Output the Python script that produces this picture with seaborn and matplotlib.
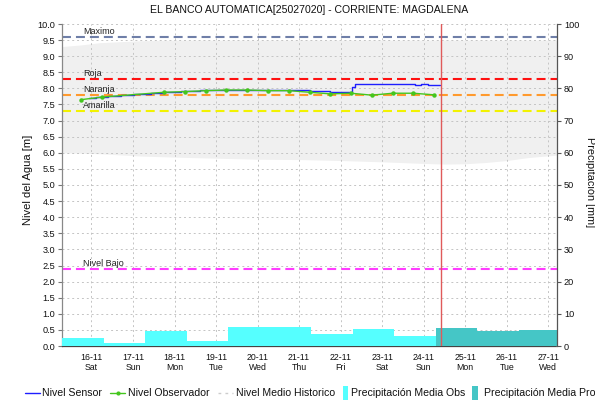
import matplotlib
matplotlib.use("Agg")
import matplotlib.pyplot as plt
import matplotlib.dates as mdates
from matplotlib.lines import Line2D
from matplotlib.patches import Rectangle
import pandas as pd
import seaborn as sns

# ---------------- data ----------------
sensor_time = ["2019-11-15 22:30", "2019-11-16 02:30", "2019-11-16 09:30", "2019-11-16 17:00",
               "2019-11-17 00:30", "2019-11-17 10:30", "2019-11-17 18:00", "2019-11-18 03:30",
               "2019-11-18 15:00", "2019-11-19 02:30", "2019-11-19 14:00", "2019-11-20 19:00",
               "2019-11-20 22:00", "2019-11-21 06:30", "2019-11-21 18:00", "2019-11-22 02:30",
               "2019-11-22 06:30", "2019-11-22 08:30", "2019-11-23 19:00", "2019-11-23 22:30",
               "2019-11-24 02:30", "2019-11-24 09:30"]
sensor_level = [7.70, 7.74, 7.77, 7.79, 7.83, 7.86, 7.90, 7.92, 7.94, 7.95, 7.96, 7.96,
                7.94, 7.92, 7.89, 7.88, 8.04, 8.14, 8.11, 8.14, 8.10, 8.10]

obs_time = ["2019-11-15 18:00", "2019-11-16 06:00", "2019-11-17 18:00", "2019-11-18 06:00",
            "2019-11-18 18:00", "2019-11-19 06:00", "2019-11-19 18:00", "2019-11-20 06:00",
            "2019-11-20 18:00", "2019-11-21 06:00", "2019-11-21 18:00", "2019-11-22 06:00",
            "2019-11-22 18:00", "2019-11-23 06:00", "2019-11-23 18:00", "2019-11-24 06:00"]
obs_level = [7.65, 7.73, 7.88, 7.90, 7.93, 7.95, 7.95, 7.93, 7.93, 7.88, 7.83, 7.85,
             7.79, 7.85, 7.85, 7.80]

# historical range (envelope)
hist_time = ["2019-11-15 07:00", "2019-11-15 18:00", "2019-11-16 05:00", "2019-11-17 04:00",
             "2019-11-18 04:00", "2019-11-19 02:00", "2019-11-20 00:00", "2019-11-21 00:00",
             "2019-11-22 00:00", "2019-11-23 00:00", "2019-11-24 00:00", "2019-11-24 12:00",
             "2019-11-25 00:00", "2019-11-25 12:00", "2019-11-26 00:00", "2019-11-26 12:00",
             "2019-11-27 05:00"]
hist_low = [6.00, 5.99, 5.97, 5.90, 5.86, 5.83, 5.80, 5.79, 5.76, 5.72, 5.67, 5.65,
            5.66, 5.70, 5.76, 5.85, 5.93]
hist_high = [9.30, 9.35, 9.42, 9.48, 9.50, 9.50, 9.50, 9.50, 9.50, 9.50, 9.50, 9.50,
             9.50, 9.50, 9.50, 9.50, 9.50]

# daily precipitation (07:00 to 07:00)
precip_obs_start = ["2019-11-15 07:00", "2019-11-16 07:00", "2019-11-17 07:00", "2019-11-18 07:00",
                    "2019-11-19 07:00", "2019-11-20 07:00", "2019-11-21 07:00", "2019-11-22 07:00",
                    "2019-11-23 07:00"]
precip_obs = [2.4, 1.0, 4.7, 1.6, 5.8, 6.0, 3.6, 5.4, 3.2]
precip_fc_start = ["2019-11-24 07:00", "2019-11-25 07:00", "2019-11-26 07:00"]
precip_fc = [5.5, 4.7, 4.9]

# alert thresholds
threshold_names = ["Maximo", "Roja", "Naranja", "Amarilla", "Nivel Bajo"]
threshold_values = [9.6, 8.3, 7.8, 7.3, 2.4]
threshold_colors = ["#6F7FA8", "#FF1010", "#FF9A2E", "#F2F200", "#FF3CFF"]

now_time = "2019-11-24 10:00"
x_start, x_end = "2019-11-15 07:00", "2019-11-27 05:00"

# series colours
C_SENSOR = "#1E1EFF"
C_OBS = "#44C61E"
C_HIST = "#CCCCCC"
C_P_OBS = "#55FFFF"
C_P_FC = "#45C6C6"

# ---------------- style ----------------
sns.set_style("white")
plt.rcParams["font.family"] = ["Liberation Sans", "DejaVu Sans"]
plt.rcParams["axes.axisbelow"] = "line"

W, H = 595, 401
fig = plt.figure(figsize=(W / 100, H / 100), dpi=100)
L, R, T, B = 62, 557, 24, 346
ax = fig.add_axes([L / W, 1 - B / H, (R - L) / W, (B - T) / H])
ax2 = ax.twinx()

grid_kw = dict(color="#C4C4C4", linewidth=0.7, linestyle=(0, (2, 3)))

sensor_df = pd.DataFrame({"time": pd.to_datetime(sensor_time), "level": sensor_level})
obs_df = pd.DataFrame({"time": pd.to_datetime(obs_time), "level": obs_level})
hist_t = pd.to_datetime(hist_time)

# historical envelope
ax.fill_between(hist_t, hist_low, hist_high, color="#F0F0F0", linewidth=0, zorder=1)

# threshold lines and labels
label_x = pd.Timestamp("2019-11-15 19:00")
for name, val, col in zip(threshold_names, threshold_values, threshold_colors):
    ax.axhline(val, color=col, linewidth=1.5, linestyle=(0, (4.3, 2.4)), zorder=2)
    ax.text(label_x, val + 0.02, name, fontsize=6.5, color="#222222",
            ha="left", va="bottom", zorder=3)

# water level series
sns.lineplot(data=sensor_df, x="time", y="level", ax=ax, color=C_SENSOR,
             linewidth=1.0, drawstyle="steps-post", zorder=4)
sns.lineplot(data=obs_df, x="time", y="level", ax=ax, color=C_OBS,
             linewidth=1.0, marker="o", markersize=3.2, markeredgewidth=0, zorder=5)

# precipitation bars on the secondary axis
ax2.bar(pd.to_datetime(precip_obs_start), precip_obs, width=1.0, align="edge",
        color=C_P_OBS, linewidth=0, zorder=2)
ax2.bar(pd.to_datetime(precip_fc_start), precip_fc, width=1.0, align="edge",
        color=C_P_FC, linewidth=0, zorder=2)
ax2.axvline(pd.Timestamp(now_time), color="#E05A5A", linewidth=1.0, zorder=5)

# axes limits & ticks
ax.set_xlim(pd.Timestamp(x_start), pd.Timestamp(x_end))
ax.set_ylim(0, 10)
ax2.set_ylim(0, 100)
ax.set_yticks([i * 0.5 for i in range(21)])
ax.set_yticklabels([f"{i * 0.5:.1f}" for i in range(21)])
ax2.set_yticks(range(0, 101, 10))

ax.xaxis.set_major_locator(mdates.DayLocator())
ax.xaxis.set_major_formatter(mdates.DateFormatter("%d-%m\n%a"))
for lbl in ax.get_xticklabels():
    lbl.set_linespacing(1.2)

ax.grid(True, which="major", **grid_kw)
ax.tick_params(axis="x", length=0, pad=5, labelsize=6.3, colors="#111111")
ax.tick_params(axis="y", length=3, width=0.8, pad=2, labelsize=6.6,
               color="#777777", labelcolor="#111111", left=True)
ax2.tick_params(axis="y", length=3, width=0.8, pad=2, labelsize=6.6,
                color="#555555", labelcolor="#111111", right=True)

ax.set_xlabel("")
ax.set_ylabel("")
ax2.set_ylabel("")

for a in (ax, ax2):
    a.spines["top"].set_visible(False)
ax.spines["left"].set_color("#888888")
ax.spines["left"].set_linewidth(0.9)
ax.spines["right"].set_visible(False)
ax2.spines["left"].set_visible(False)
ax2.spines["right"].set_color("#555555")
ax2.spines["right"].set_linewidth(0.9)
ax.spines["bottom"].set_color("#444444")
ax.spines["bottom"].set_linewidth(0.9)
ax.spines["bottom"].set_linestyle((0, (1, 1)))
ax2.spines["bottom"].set_visible(False)

# titles and axis labels
fig.text((L + R) / 2 / W, 1 - 10 / H, "EL BANCO AUTOMATICA[25027020] - CORRIENTE: MAGDALENA",
         fontsize=7.6, ha="center", va="center", color="#111111")
fig.text(28 / W, 1 - 180 / H, "Nivel del Agua [m]", rotation=90, fontsize=8.0,
         ha="center", va="center", color="#111111")
fig.text(590 / W, 1 - 182 / H, "Precipitación [mm]", rotation=270, fontsize=7.8,
         ha="center", va="center", color="#111111")

# legend row along the bottom edge (entries: handle start, text start in px)
leg_y = 1 - 393 / H
legend_entries = [
    ("Nivel Sensor", "line", 25, 42),
    ("Nivel Observador", "marker", 110, 128),
    ("Nivel Medio Historico", "dotted", 218, 236),
    ("Precipitación Media Obs", "box_obs", 343, 351),
    ("Precipitación Media Pro", "box_fc", 472, 484),
]
for label, kind, hx, tx in legend_entries:
    if kind == "line":
        fig.add_artist(Line2D([hx / W, (hx + 15) / W], [leg_y, leg_y], color=C_SENSOR,
                              linewidth=1.0, transform=fig.transFigure))
    elif kind == "marker":
        fig.add_artist(Line2D([hx / W, (hx + 15) / W], [leg_y, leg_y], color=C_OBS,
                              linewidth=1.0, transform=fig.transFigure))
        fig.add_artist(Line2D([(hx + 7.5) / W], [leg_y], color=C_OBS, marker="o",
                              markersize=3, markeredgewidth=0, transform=fig.transFigure))
    elif kind == "dotted":
        fig.add_artist(Line2D([hx / W, (hx + 15) / W], [leg_y, leg_y], color=C_HIST,
                              linewidth=1.0, linestyle=(0, (2, 3)), transform=fig.transFigure))
    else:
        col = C_P_OBS if kind == "box_obs" else C_P_FC
        fig.add_artist(Rectangle((hx / W, 1 - 400 / H), 5.5 / W, 14 / H, facecolor=col,
                                 edgecolor="none", transform=fig.transFigure))
    fig.text(tx / W, leg_y, label, fontsize=7.6, ha="left", va="center", color="#111111")

fig.savefig("out.png", dpi=100)
